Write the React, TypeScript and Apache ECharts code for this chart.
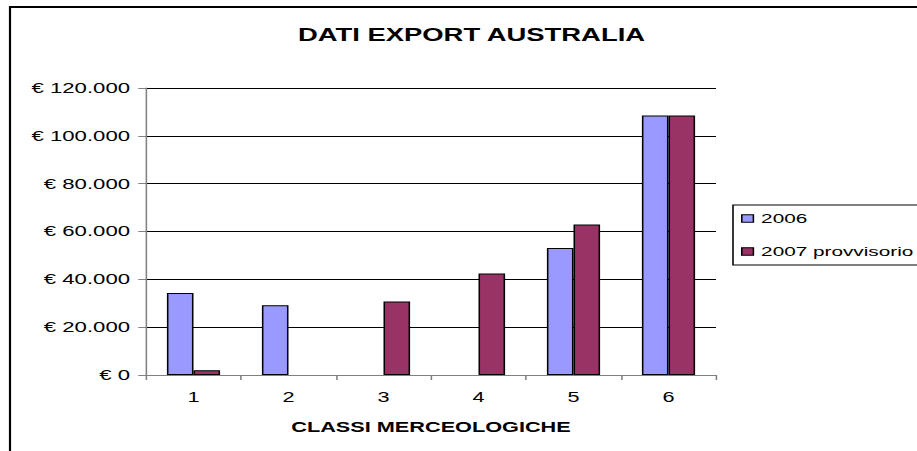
import React, { useEffect, useRef } from 'react';
import * as echarts from 'echarts';

const categories = ['1', '2', '3', '4', '5', '6'];
const values2006: (number | null)[] = [34300, 29200, null, null, 53100, 108500];
const values2007: (number | null)[] = [2000, null, 30700, 42400, 62900, 108500];
const seriesNames = ['2006', '2007 provvisorio'];
const titleText = 'DATI EXPORT AUSTRALIA';
const xAxisName = 'CLASSI MERCEOLOGICHE';

// The reference is horizontally stretched; draw in a narrower space and stretch.
const PAGE_W = 917;
const H = 451;
const W = 592;
const S = PAGE_W / W;
const sx = (x: number) => x / S;

const FONT = '"Liberation Sans", Arial, Helvetica, sans-serif';

function euro(v: number) {
  return '€ ' + String(v).replace(/\B(?=(\d{3})+(?!\d))/g, '.');
}

export default function App() {
  const ref = useRef<HTMLDivElement>(null);
  useEffect(() => {
    const chart = echarts.init(ref.current!, null, { renderer: 'svg' });
    const plotLeft = sx(146);
    const plotRight = sx(716);
    chart.setOption({
      animation: false,
      textStyle: { fontFamily: FONT },
      graphic: [
        { type: 'line', shape: { x1: sx(10), y1: 7, x2: W + 5, y2: 7 }, style: { stroke: '#000', lineWidth: 2 } },
        { type: 'line', shape: { x1: sx(10), y1: 6, x2: sx(10), y2: H + 5 }, style: { stroke: '#000', lineWidth: 1.4 } },
        {
          type: 'text',
          x: sx(471.5),
          y: 35,
          style: {
            text: titleText,
            fontFamily: FONT,
            fontSize: 17.7,
            fontWeight: 'bold',
            fill: '#000',
            align: 'center',
            verticalAlign: 'middle',
          },
        },
      ],
      legend: {
        orient: 'vertical',
        left: sx(733),
        top: 205,
        padding: [7, 8, 7, sx(8)],
        itemGap: 20,
        itemWidth: 7.5,
        itemHeight: 7.5,
        icon: 'rect',
        borderColor: '#000',
        borderWidth: 1,
        backgroundColor: '#fff',
        itemStyle: { borderColor: '#000', borderWidth: 1 },
        textStyle: { fontFamily: FONT, fontSize: 13.4, color: '#000' },
        data: seriesNames,
      },
      grid: {
        left: plotLeft,
        top: 88,
        width: plotRight - plotLeft,
        height: 287,
        containLabel: false,
      },
      xAxis: {
        type: 'category',
        data: categories,
        boundaryGap: true,
        name: xAxisName,
        nameLocation: 'middle',
        nameGap: 45,
        nameTextStyle: { fontFamily: FONT, fontSize: 14, fontWeight: 'bold', color: '#000' },
        axisLine: { show: true, lineStyle: { color: '#808080', width: 1 } },
        axisTick: { show: true, length: 5, lineStyle: { color: '#808080' } },
        axisLabel: { fontFamily: FONT, fontSize: 14, color: '#000', margin: 15 },
        splitLine: { show: false },
      },
      yAxis: {
        type: 'value',
        min: 0,
        max: 120000,
        interval: 20000,
        axisLine: { show: true, lineStyle: { color: '#808080', width: 1 } },
        axisTick: { show: true, length: 5, lineStyle: { color: '#808080' } },
        axisLabel: {
          fontFamily: FONT,
          fontSize: 14.3,
          color: '#000',
          margin: sx(16),
          formatter: (v: number) => euro(v),
        },
        splitLine: { show: true, lineStyle: { color: '#000', width: 1 } },
      },
      series: [
        {
          name: seriesNames[0],
          type: 'bar',
          data: values2006,
          barGap: '0%',
          barCategoryGap: '44%',
          itemStyle: { color: '#9999FF', borderColor: '#000', borderWidth: 1 },
        },
        {
          name: seriesNames[1],
          type: 'bar',
          data: values2007,
          barGap: '0%',
          barCategoryGap: '44%',
          itemStyle: { color: '#993366', borderColor: '#000', borderWidth: 1 },
        },
      ],
    });
    return () => chart.dispose();
  }, []);
  return (
    <div
      ref={ref}
      style={{
        position: 'absolute',
        left: 0,
        top: 0,
        width: W,
        height: H,
        transform: `scaleX(${S})`,
        transformOrigin: '0 0',
      }}
    />
  );
}
